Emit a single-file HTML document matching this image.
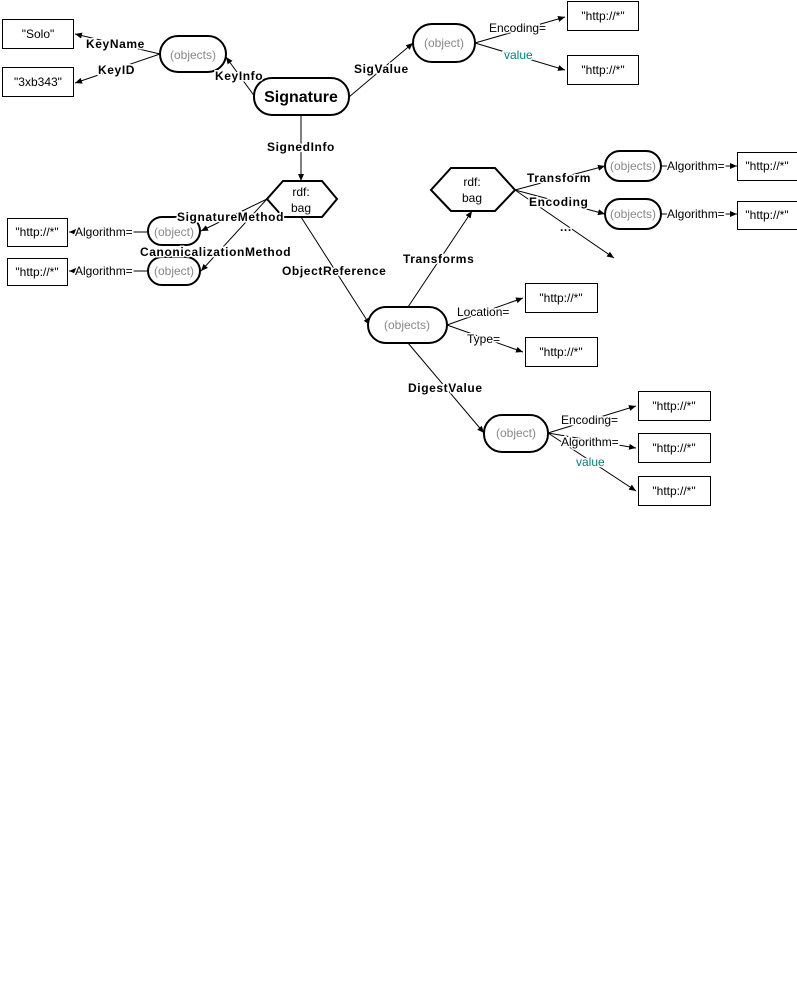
<!DOCTYPE html>
<html><head><meta charset="utf-8"><style>
html,body{margin:0;padding:0;background:#fff;}
svg{display:block;}
text{font-family:"Liberation Sans",Arial,sans-serif;font-size:12px;fill:#000;}
.b{font-weight:bold;letter-spacing:0.6px;}
.g{fill:#888;}
.t{fill:#008080;}
.bg{paint-order:stroke;stroke:#fff;stroke-width:3px;}
</style></head><body>
<svg width="797" height="992" viewBox="0 0 797 992" xmlns="http://www.w3.org/2000/svg">
<defs>
<marker id="a" markerWidth="8" markerHeight="8" refX="7" refY="4" orient="auto" markerUnits="userSpaceOnUse">
<path d="M0,1 L7,4 L0,7 z" fill="#000"/></marker>
</defs>
<g stroke="#000" stroke-width="1" fill="none" marker-end="url(#a)">
<line x1="160" y1="54" x2="75" y2="34"/>
<line x1="160" y1="54" x2="75" y2="83"/>
<line x1="255" y1="97" x2="226" y2="57"/>
<line x1="349" y1="97" x2="413" y2="43"/>
<line x1="475" y1="43" x2="565" y2="17"/>
<line x1="475" y1="43" x2="565" y2="70"/>
<line x1="301" y1="115" x2="301" y2="181"/>
<line x1="267" y1="199" x2="201" y2="231"/>
<line x1="267" y1="199" x2="201" y2="271"/>
<line x1="148" y1="232" x2="69" y2="232"/>
<line x1="148" y1="271" x2="69" y2="271"/>
<line x1="301" y1="217" x2="370" y2="325"/>
<line x1="408" y1="307" x2="472" y2="211"/>
<line x1="515" y1="190" x2="605" y2="166"/>
<line x1="515" y1="190" x2="605" y2="214"/>
<line x1="515" y1="190" x2="614" y2="258"/>
<line x1="661" y1="166" x2="737" y2="166"/>
<line x1="661" y1="214" x2="737" y2="214"/>
<line x1="447" y1="325" x2="523" y2="298"/>
<line x1="447" y1="325" x2="523" y2="352"/>
<line x1="408" y1="343" x2="484" y2="433"/>
<line x1="548" y1="433" x2="636" y2="406"/>
<line x1="548" y1="433" x2="636" y2="448"/>
<line x1="548" y1="433" x2="636" y2="491"/>
</g>
<g stroke="#000" stroke-width="2" fill="#fff">
<rect x="160" y="36" width="66" height="36" rx="18"/>
<rect x="254" y="78" width="95" height="37" rx="18"/>
<rect x="413" y="24" width="62" height="38" rx="19"/>
<polygon points="283,181 322,181 337,199 322,217 283,217 267,199"/>
<rect x="148" y="217" width="52" height="28" rx="14"/>
<rect x="148" y="257" width="52" height="28" rx="14"/>
<polygon points="451,168 495,168 515,190 495,211 451,211 431,190"/>
<rect x="605" y="151" width="56" height="30" rx="15"/>
<rect x="605" y="199" width="56" height="30" rx="15"/>
<rect x="368" y="307" width="79" height="36" rx="18"/>
<rect x="484" y="415" width="64" height="37" rx="18"/>
</g>
<g stroke="#000" stroke-width="1" fill="#fff">
<rect x="2.5" y="19.5" width="71" height="29"/>
<rect x="2.5" y="67.5" width="71" height="29"/>
<rect x="567.5" y="1.5" width="71" height="29"/>
<rect x="567.5" y="55.5" width="71" height="29"/>
<rect x="7.5" y="218.5" width="60" height="28"/>
<rect x="7.5" y="258.5" width="60" height="27"/>
<rect x="737.5" y="152.5" width="60" height="28"/>
<rect x="737.5" y="201.5" width="60" height="28"/>
<rect x="525.5" y="283.5" width="72" height="29"/>
<rect x="525.5" y="337.5" width="72" height="29"/>
<rect x="638.5" y="391.5" width="72" height="29"/>
<rect x="638.5" y="433.5" width="72" height="29"/>
<rect x="638.5" y="476.5" width="72" height="29"/>
</g>
<g text-anchor="middle">
<text x="38" y="38">"Solo"</text>
<text x="38" y="86">"3xb343"</text>
<text x="603" y="20">"http://*"</text>
<text x="603" y="74">"http://*"</text>
<text x="37" y="236">"http://*"</text>
<text x="37" y="276">"http://*"</text>
<text x="767" y="170">"http://*"</text>
<text x="767" y="219">"http://*"</text>
<text x="561" y="302">"http://*"</text>
<text x="561" y="356">"http://*"</text>
<text x="674" y="410">"http://*"</text>
<text x="674" y="452">"http://*"</text>
<text x="674" y="495">"http://*"</text>
<text x="193" y="59" class="g">(objects)</text>
<text x="444" y="47" class="g">(object)</text>
<text x="174" y="236" class="g">(object)</text>
<text x="174" y="275" class="g">(object)</text>
<text x="633" y="170" class="g">(objects)</text>
<text x="633" y="218" class="g">(objects)</text>
<text x="407" y="329" class="g">(objects)</text>
<text x="516" y="437" class="g">(object)</text>
<text x="301" y="196">rdf:</text>
<text x="301" y="212">bag</text>
<text x="472" y="186">rdf:</text>
<text x="472" y="202">bag</text>
<text x="301" y="102" class="b" style="font-size:16px;letter-spacing:0">Signature</text>
</g>
<g class="bg">
<text x="86" y="48" class="b">KeyName</text>
<text x="98" y="74" class="b">KeyID</text>
<text x="215" y="80" class="b">KeyInfo</text>
<text x="354" y="73" class="b">SigValue</text>
<text x="489" y="32">Encoding=</text>
<text x="504" y="59" class="t">value</text>
<text x="267" y="151" class="b">SignedInfo</text>
<text x="177" y="221" class="b">SignatureMethod</text>
<text x="140" y="256" class="b">CanonicalizationMethod</text>
<text x="75" y="236">Algorithm=</text>
<text x="75" y="275">Algorithm=</text>
<text x="282" y="275" class="b">ObjectReference</text>
<text x="403" y="263" class="b">Transforms</text>
<text x="527" y="182" class="b">Transform</text>
<text x="529" y="206" class="b">Encoding</text>
<text x="560" y="231" class="b">...</text>
<text x="667" y="170">Algorithm=</text>
<text x="667" y="218">Algorithm=</text>
<text x="457" y="316">Location=</text>
<text x="467" y="343">Type=</text>
<text x="408" y="392" class="b">DigestValue</text>
<text x="561" y="424">Encoding=</text>
<text x="561" y="446">Algorithm=</text>
<text x="576" y="466" class="t">value</text>
</g>
</svg>
</body></html>
